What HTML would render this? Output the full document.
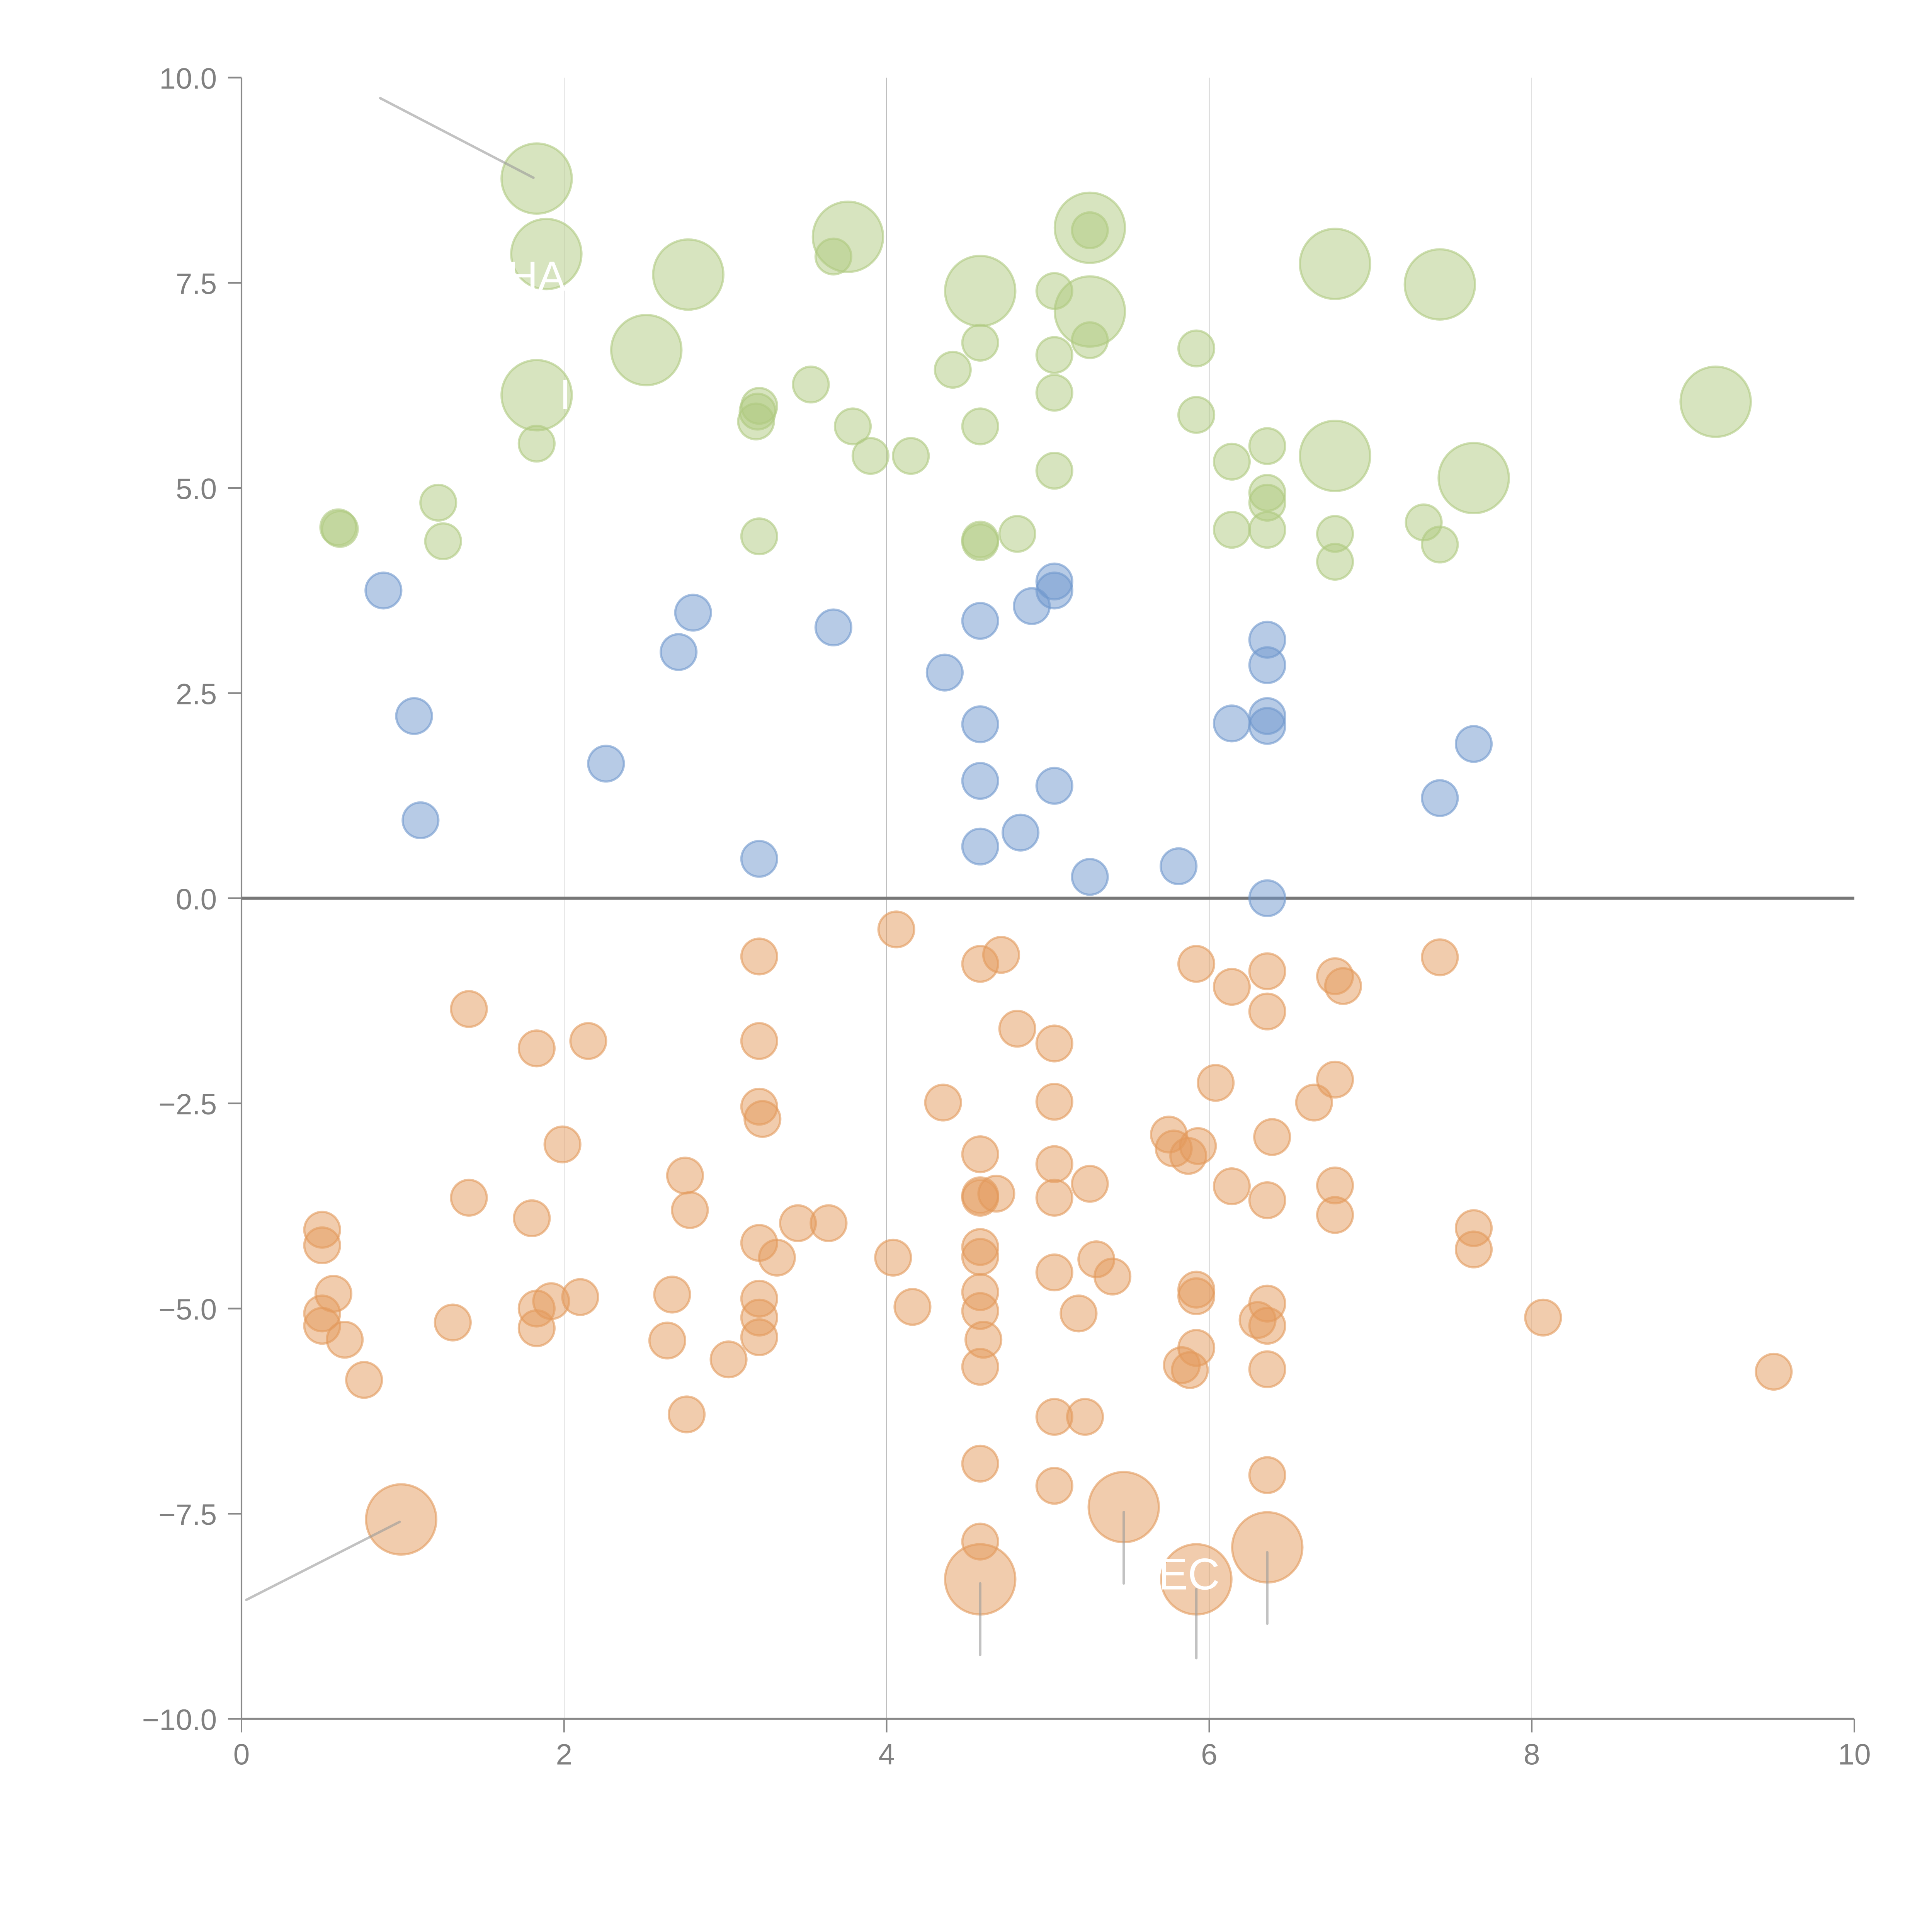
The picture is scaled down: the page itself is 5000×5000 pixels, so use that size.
<!DOCTYPE html>
<html><head><meta charset="utf-8"><style>
html,body{margin:0;padding:0;background:#fff;}
svg{display:block;}
text{font-family:"Liberation Sans",Arial,sans-serif;}
</style></head><body>
<svg id="chart" width="5000" height="5000" viewBox="0 0 1568 1568" xmlns="http://www.w3.org/2000/svg">
<g id="grid"></g>
<g id="axes"></g>
<g id="leaders"></g>
<g id="marks"></g>
<g id="labels">
<text x="412" y="236" font-size="34" fill="#fff">HA</text>
<text x="454" y="332" font-size="34" fill="#fff">I TA</text>
<text x="940" y="1290" font-size="36" fill="#fff">EC</text>
</g>
</svg>
<script>
const xTicks=[0,2,4,6,8,10];
const yTicks=[10,7.5,5,2.5,0,-2.5,-5,-7.5,-10];
const yTickLabels=["10.0","7.5","5.0","2.5","0.0","\u22122.5","\u22125.0","\u22127.5","\u221210.0"];
const greenX=[1.83,1.89,2.77,2.51,1.83,1.83,0.60,0.61,1.22,1.25,3.21,3.20,3.19,3.21,3.53,3.67,3.76,3.79,3.90,4.15,4.41,4.58,4.58,4.58,4.58,4.58,4.81,5.04,5.04,5.04,5.04,5.26,5.26,5.26,5.26,5.92,5.92,6.14,6.14,6.36,6.36,6.36,6.36,6.78,6.78,6.78,6.78,7.33,7.43,7.43,7.64,9.14];
const greenY=[8.77,7.85,7.60,6.68,6.13,5.54,4.52,4.50,4.82,4.35,6.00,5.93,5.81,4.41,6.26,7.82,8.06,5.75,5.39,5.39,6.44,7.40,6.77,5.75,4.37,4.34,4.44,7.40,6.62,6.16,5.21,8.17,8.14,7.15,6.80,6.70,5.89,5.32,4.49,5.51,4.94,4.82,4.49,7.73,5.39,4.44,4.10,4.58,7.48,4.31,5.12,6.05];
const greenS=[2,2,2,2,2,1,1,1,1,1,1,1,1,1,1,1,2,1,1,1,1,2,1,1,1,1,1,1,1,1,1,2,1,2,1,1,1,1,1,1,1,1,1,2,2,1,1,1,2,1,2,2];
const blueX=[0.88,1.07,1.11,2.26,2.71,2.80,3.21,3.67,4.36,4.58,4.58,4.58,4.58,4.83,4.90,5.04,5.04,5.04,5.26,5.81,6.14,6.36,6.36,6.36,6.36,6.36,7.43,7.64];
const blueY=[3.75,2.22,0.95,1.64,3.00,3.48,0.48,3.30,2.75,3.38,2.12,1.43,0.63,0.80,3.56,3.86,3.75,1.37,0.26,0.39,2.13,3.15,2.84,2.22,2.10,0.00,1.22,1.88];
const orangeX=[4.06,3.21,4.58,4.71,5.92,6.14,6.36,6.36,6.78,6.83,7.43,1.41,1.83,2.15,3.21,4.81,5.04,6.04,6.78,6.65,3.21,3.23,4.35,5.04,1.99,2.75,2.78,4.58,4.58,4.58,4.68,5.04,5.04,5.26,5.75,5.78,5.87,5.93,6.14,6.39,6.36,6.78,6.78,7.64,7.64,0.50,0.50,1.41,1.80,3.45,3.64,3.21,3.32,4.04,4.58,4.58,5.30,5.40,5.04,0.57,0.50,0.50,0.64,0.76,1.31,1.83,1.83,1.92,2.10,2.67,2.64,2.76,3.02,3.21,3.21,3.21,4.16,4.58,4.58,4.60,4.58,4.58,4.58,5.19,5.04,5.23,5.04,5.92,5.92,5.92,5.83,5.88,6.36,6.30,6.36,6.36,6.36,8.07,9.50,0.99,5.47,4.58,5.92,6.36];
const orangeY=[-0.38,-0.71,-0.80,-0.69,-0.80,-1.08,-0.89,-1.38,-0.95,-1.07,-0.72,-1.35,-1.83,-1.74,-1.74,-1.59,-1.77,-2.25,-2.21,-2.49,-2.54,-2.69,-2.49,-2.48,-3.00,-3.38,-3.80,-3.12,-3.62,-3.65,-3.60,-3.24,-3.65,-3.48,-2.88,-3.05,-3.14,-3.02,-3.51,-2.91,-3.68,-3.50,-3.86,-4.02,-4.28,-4.04,-4.23,-3.65,-3.90,-3.96,-3.96,-4.20,-4.38,-4.38,-4.25,-4.37,-4.40,-4.61,-4.56,-4.82,-5.06,-5.21,-5.38,-5.87,-5.17,-5.00,-5.24,-4.91,-4.86,-4.83,-5.39,-6.29,-5.62,-4.88,-5.11,-5.35,-4.98,-4.80,-5.03,-5.38,-5.71,-6.89,-7.84,-5.06,-6.32,-6.32,-7.16,-4.77,-4.85,-5.48,-5.69,-5.75,-4.94,-5.14,-5.21,-5.74,-7.03,-5.11,-5.77,-7.57,-7.42,-8.30,-8.30,-7.91];
const orangeS=orangeX.map((_,i)=>i>=orangeX.length-5?2:1);
const leaderFrom=[[0.86,9.75],[0.03,-8.55],[5.47,-7.48],[4.58,-8.35],[5.92,-8.42],[6.36,-7.97]];
const leaderTo=[[1.81,8.78],[0.98,-7.6],[5.47,-8.35],[4.58,-9.22],[5.92,-9.26],[6.36,-8.84]];

const NS="http://www.w3.org/2000/svg";
const X0=196,X1=1505,Y0=1395,Y1=63;
const sx=v=>X0+(v-0)/(10-0)*(X1-X0);
const sy=v=>Y0-(v+10)/20*(Y0-Y1);
function mk(tag,attrs,parent){const e=document.createElementNS(NS,tag);for(const k in attrs)e.setAttribute(k,attrs[k]);parent.appendChild(e);return e;}
const grid=document.getElementById('grid'),axes=document.getElementById('axes'),marks=document.getElementById('marks'),leaders=document.getElementById('leaders');
[2,4,6,8].forEach(v=>{const l=mk('line',{x1:sx(v),x2:sx(v),y1:sy(10),y2:sy(-10),stroke:'#555','stroke-width':0.4,'stroke-opacity':0.5},grid);

});
const ya=mk('line',{x1:X0,x2:X0,y1:Y1,y2:Y0,stroke:'#888','stroke-width':1.3},axes);


const xa=mk('line',{x1:X0,x2:X1,y1:Y0,y2:Y0,stroke:'#888','stroke-width':1.6},axes);


const zl=mk('line',{x1:X0,x2:X1,y1:sy(0),y2:sy(0),stroke:'#777','stroke-width':2.5},axes);


yTicks.forEach((v,i)=>{mk('line',{x1:X0-11,x2:X0,y1:sy(v),y2:sy(v),stroke:'#888','stroke-width':1.4},axes);
const t=mk('text',{x:X0-20,y:sy(v)+9,'text-anchor':'end','font-size':24,fill:'#808080',textLength:0},axes);t.removeAttribute('textLength');t.textContent=yTickLabels[i];

});
xTicks.forEach(v=>{mk('line',{x1:sx(v),x2:sx(v),y1:Y0,y2:Y0+11,stroke:'#888','stroke-width':1.2},axes);
const t=mk('text',{x:sx(v),y:Y0+37,'text-anchor':'middle','font-size':24,fill:'#808080'},axes);t.textContent=String(v);

});
function series(xs,ys,ss,color,name){xs.forEach((x,i)=>{const r=ss[i]===2?28.5:14.5;
const c=mk('circle',{cx:sx(x),cy:sy(ys[i]),r:r,fill:color,'fill-opacity':0.5,stroke:color,'stroke-opacity':0.6,'stroke-width':1.8},marks);

});}
series(greenX,greenY,greenS,'#afca80','bubble-green');
series(blueX,blueY,blueX.map(()=>1),'#6f97cd','bubble-blue');
series(orangeX,orangeY,orangeS,'#e39a5c','bubble-orange');
leaderFrom.forEach((p,i)=>{const q=leaderTo[i];
const l=mk('line',{x1:sx(p[0]),y1:sy(p[1]),x2:sx(q[0]),y2:sy(q[1]),stroke:'#999','stroke-opacity':0.6,'stroke-width':2,'stroke-linecap':'round'},leaders);

});
document.getElementById('chart').appendChild(leaders);
document.getElementById('chart').appendChild(document.getElementById('labels'));
</script>
</body></html>
